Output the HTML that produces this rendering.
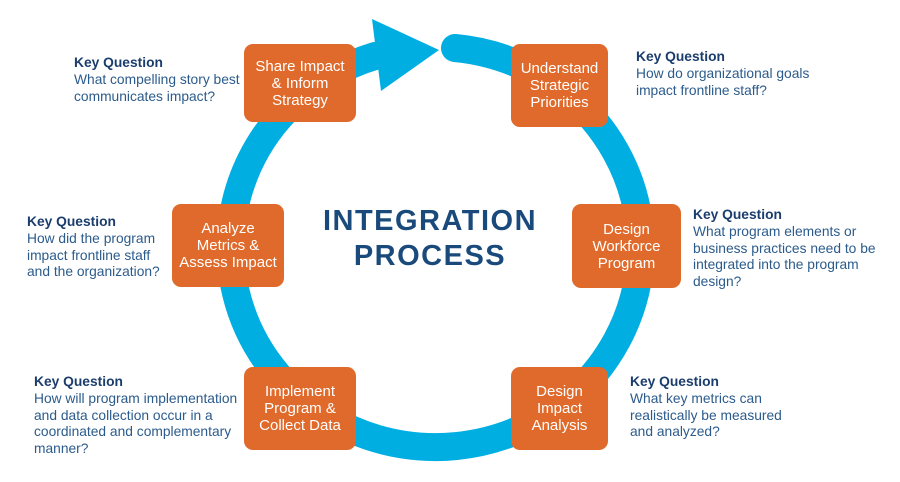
<!DOCTYPE html>
<html><head><meta charset="utf-8"><style>
body{margin:0;width:900px;height:482px;background:#fff;position:relative;overflow:hidden;font-family:"Liberation Sans",sans-serif}
.box{position:absolute;background:#E06A2B;border-radius:9px;color:#fff;display:flex;align-items:center;justify-content:center;text-align:center;font-size:15px;line-height:17px;}
.q{position:absolute;font-size:13.8px;line-height:16.8px;color:#2b5b8c;white-space:nowrap}
.q b{color:#1b3d6d;font-size:13.8px}
.t{position:absolute;left:300px;width:260px;text-align:center;color:#1a4a7c;font-weight:bold;font-size:29px;letter-spacing:1.5px}
</style></head><body>
<svg width="900" height="482" style="position:absolute;left:0;top:0">
<path d="M455 48 A205 200 0 1 1 375 56" fill="none" stroke="#00AEE2" stroke-width="28" stroke-linecap="round"/>
<polygon points="372,19 381,91 439,50" fill="#00AEE2"/>
</svg>
<div class="box" style="left:244px;top:44px;width:112px;height:78px">Share Impact<br>&amp; Inform<br>Strategy</div>
<div class="box" style="left:511px;top:44px;width:97px;height:83px">Understand<br>Strategic<br>Priorities</div>
<div class="box" style="left:172px;top:204px;width:112px;height:83px">Analyze<br>Metrics &amp;<br>Assess Impact</div>
<div class="box" style="left:572px;top:204px;width:109px;height:84px">Design<br>Workforce<br>Program</div>
<div class="box" style="left:244px;top:367px;width:112px;height:83px">Implement<br>Program &amp;<br>Collect Data</div>
<div class="box" style="left:511px;top:367px;width:97px;height:83px">Design<br>Impact<br>Analysis</div>
<div class="t" style="top:205px">INTEGRATION</div>
<div class="t" style="top:240px">PROCESS</div>
<div class="q" style="left:74px;top:55px"><b>Key Question</b><br>What compelling story best<br>communicates impact?</div>
<div class="q" style="left:636px;top:49px"><b>Key Question</b><br>How do organizational goals<br>impact frontline staff?</div>
<div class="q" style="left:27px;top:214px"><b>Key Question</b><br>How did the program<br>impact frontline staff<br>and the organization?</div>
<div class="q" style="left:693px;top:207px"><b>Key Question</b><br>What program elements or<br>business practices need to be<br>integrated into the program<br>design?</div>
<div class="q" style="left:34px;top:374px"><b>Key Question</b><br>How will program implementation<br>and data collection occur in a<br>coordinated and complementary<br>manner?</div>
<div class="q" style="left:630px;top:374px"><b>Key Question</b><br>What key metrics can<br>realistically be measured<br>and analyzed?</div>
</body></html>
